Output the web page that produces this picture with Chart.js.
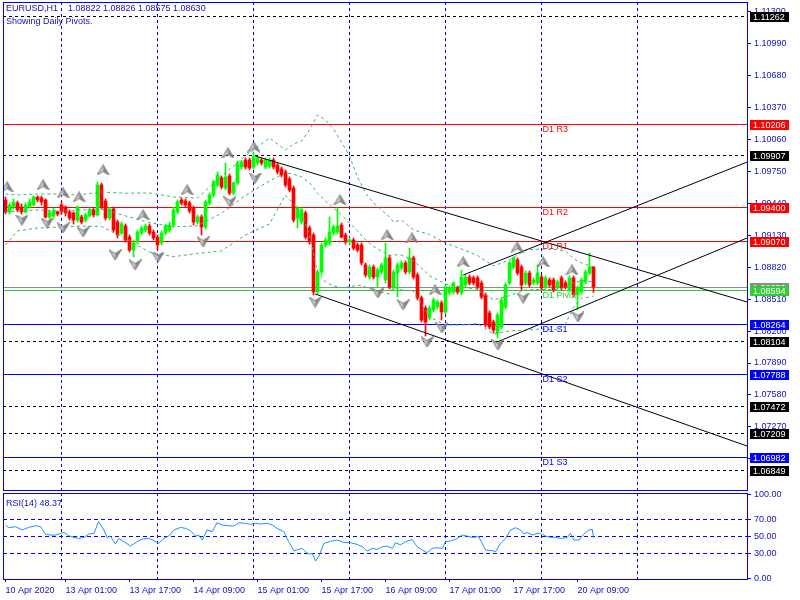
<!DOCTYPE html>
<html lang="en">
<head>
<meta charset="UTF-8">
<title>EURUSD,H1</title>
<script src="https://cdn.jsdelivr.net/npm/chart.js"></script>
<style>
  body { margin: 0; background: #fff; }
  #wrap { position: relative; width: 800px; height: 600px; overflow: hidden; }
  #main { position: absolute; left: 0; top: 0; }
  #rsi { position: absolute; left: 0; top: 480px; }
</style>
</head>
<body>
<div id="wrap">
  <canvas id="main" width="800" height="491"></canvas>
  <canvas id="rsi" width="800" height="120"></canvas>
</div>
<script>
// hourly bars, 10 Apr 10:00 .. 20 Apr 13:00 (bar index = position on the x axis)
const opens = [1.09473,1.09357,1.09405,1.09444,1.09405,1.09357,1.09405,1.09424,1.09502,1.09492,
  1.09473,1.09308,1.09318,1.09357,1.09424,1.09405,1.09357,1.09347,1.09278,1.09308,
  1.09278,1.09318,1.09376,1.09327,1.09619,1.09463,1.09298,1.09386,1.09259,1.09152,
  1.09220,1.09113,1.08987,1.09065,1.09152,1.09181,1.09220,1.09162,1.09113,1.09055,
  1.09152,1.09181,1.09230,1.09357,1.09473,1.09463,1.09444,1.09395,1.09259,1.09308,
  1.09211,1.09444,1.09522,1.09619,1.09686,1.09589,1.09706,1.09541,1.09638,1.09793,
  1.09861,1.09861,1.09793,1.09832,1.09861,1.09793,1.09803,1.09861,1.09812,1.09774,
  1.09745,1.09677,1.09589,1.09298,1.09259,1.09347,1.09201,1.09133,1.08580,1.08774,
  1.09036,1.09055,1.09152,1.09162,1.09230,1.09133,1.09065,1.09084,1.09036,1.09036,
  1.08842,1.08725,1.08822,1.08725,1.08774,1.08696,1.08910,1.08628,1.08764,1.08813,
  1.08861,1.08774,1.08910,1.08745,1.08522,1.08424,1.08327,1.08405,1.08434,1.08473,
  1.08386,1.08570,1.08580,1.08619,1.08570,1.08648,1.08725,1.08716,1.08716,1.08667,
  1.08551,1.08376,1.08288,1.08181,1.08240,1.08434,1.08667,1.08822,1.08890,1.08822,
  1.08667,1.08764,1.08667,1.08667,1.08725,1.08628,1.08696,1.08696,1.08628,1.08716,
  1.08667,1.08599,1.08716,1.08551,1.08580,1.08677,1.08764,1.08822];
const highs = [1.09502,1.09444,1.09483,1.09463,1.09434,1.09444,1.09483,1.09512,1.09512,1.09512,
  1.09483,1.09376,1.09395,1.09366,1.09454,1.09415,1.09376,1.09357,1.09415,1.09327,
  1.09347,1.09395,1.09395,1.09648,1.09638,1.09483,1.09405,1.09405,1.09278,1.09259,
  1.09240,1.09133,1.09084,1.09181,1.09220,1.09240,1.09240,1.09181,1.09133,1.09172,
  1.09240,1.09259,1.09405,1.09473,1.09492,1.09483,1.09463,1.09415,1.09327,1.09327,
  1.09473,1.09541,1.09667,1.09745,1.09706,1.09832,1.09725,1.09648,1.09851,1.09861,
  1.09880,1.09880,1.09939,1.09890,1.09880,1.09880,1.09880,1.09880,1.09832,1.09793,
  1.09764,1.09696,1.09609,1.09415,1.09395,1.09366,1.09220,1.09152,1.08793,1.09055,
  1.09104,1.09308,1.09230,1.09395,1.09250,1.09152,1.09104,1.09104,1.09055,1.09055,
  1.08861,1.08842,1.08842,1.08813,1.08861,1.09055,1.08939,1.08793,1.08861,1.08880,
  1.08880,1.09006,1.08929,1.08764,1.08541,1.08444,1.08444,1.08522,1.08502,1.08493,
  1.08648,1.08638,1.08677,1.08638,1.08793,1.08745,1.08745,1.08735,1.08735,1.08687,
  1.08570,1.08395,1.08307,1.08376,1.08522,1.08667,1.08880,1.08919,1.08910,1.08842,
  1.08784,1.08784,1.08716,1.08842,1.08745,1.08735,1.08716,1.08716,1.08696,1.08735,
  1.08687,1.08735,1.08735,1.08638,1.08716,1.08793,1.08958,1.08826];
const lows = [1.09337,1.09337,1.09386,1.09357,1.09337,1.09347,1.09395,1.09415,1.09454,1.09424,
  1.09298,1.09289,1.09298,1.09318,1.09337,1.09318,1.09278,1.09240,1.09259,1.09240,
  1.09259,1.09308,1.09308,1.09318,1.09386,1.09278,1.09278,1.09162,1.09104,1.09133,
  1.09065,1.08968,1.08919,1.09045,1.09133,1.09162,1.09133,1.09084,1.08987,1.09036,
  1.09133,1.09162,1.09211,1.09337,1.09424,1.09405,1.09347,1.09230,1.09240,1.09133,
  1.09191,1.09424,1.09502,1.09599,1.09580,1.09570,1.09522,1.09522,1.09619,1.09774,
  1.09774,1.09764,1.09774,1.09812,1.09812,1.09774,1.09783,1.09774,1.09725,1.09696,
  1.09599,1.09551,1.09259,1.09201,1.09240,1.09094,1.09045,1.08551,1.08560,1.08745,
  1.09016,1.09036,1.09133,1.09142,1.09104,1.09045,1.09045,1.08987,1.08968,1.08842,
  1.08725,1.08706,1.08706,1.08628,1.08755,1.08667,1.08609,1.08599,1.08531,1.08793,
  1.08755,1.08755,1.08706,1.08502,1.08288,1.08152,1.08307,1.08386,1.08415,1.08307,
  1.08366,1.08551,1.08560,1.08560,1.08551,1.08628,1.08648,1.08648,1.08609,1.08512,
  1.08240,1.08220,1.08181,1.08132,1.08220,1.08415,1.08648,1.08803,1.08745,1.08599,
  1.08648,1.08628,1.08648,1.08648,1.08599,1.08609,1.08628,1.08580,1.08609,1.08599,
  1.08609,1.08580,1.08531,1.08405,1.08560,1.08658,1.08745,1.08575];
const closes = [1.09357,1.09424,1.09454,1.09376,1.09357,1.09424,1.09454,1.09502,1.09473,1.09454,
  1.09308,1.09357,1.09366,1.09337,1.09357,1.09347,1.09298,1.09278,1.09405,1.09259,
  1.09327,1.09376,1.09327,1.09619,1.09405,1.09298,1.09386,1.09181,1.09133,1.09240,
  1.09084,1.08987,1.09055,1.09162,1.09201,1.09220,1.09152,1.09104,1.09036,1.09152,
  1.09220,1.09230,1.09376,1.09454,1.09444,1.09424,1.09366,1.09259,1.09308,1.09211,
  1.09454,1.09522,1.09648,1.09715,1.09599,1.09696,1.09541,1.09638,1.09832,1.09842,
  1.09793,1.09783,1.09890,1.09880,1.09832,1.09861,1.09861,1.09793,1.09745,1.09715,
  1.09619,1.09570,1.09278,1.09395,1.09376,1.09113,1.09065,1.08580,1.08774,1.09036,
  1.09084,1.09162,1.09211,1.09220,1.09113,1.09065,1.09084,1.09006,1.08987,1.08861,
  1.08745,1.08822,1.08725,1.08793,1.08842,1.08910,1.08628,1.08774,1.08842,1.08861,
  1.08774,1.08910,1.08725,1.08522,1.08307,1.08288,1.08424,1.08502,1.08483,1.08386,
  1.08628,1.08619,1.08667,1.08580,1.08725,1.08725,1.08667,1.08667,1.08628,1.08531,
  1.08259,1.08240,1.08210,1.08356,1.08502,1.08648,1.08861,1.08910,1.08764,1.08648,
  1.08764,1.08648,1.08696,1.08764,1.08619,1.08716,1.08648,1.08599,1.08677,1.08619,
  1.08628,1.08716,1.08551,1.08619,1.08696,1.08774,1.08822,1.08630];

// Bollinger band readings (bar, upper, middle, lower)
const bandBars = [0,3,8,14,18,24,30,36,42,48,54,60,66,70,72,74,76,78,80,82,84,86,88,90,92,96,97,99,102,106,110,114,118,122,126,130,134,138,140,142,144,147];
const bandUpper = [1.09531,1.09521,1.09531,1.09531,1.09521,1.09550,1.09538,1.09541,1.09502,1.09492,1.09706,1.09900,1.10075,1.09958,1.10016,1.10045,1.10152,1.10298,1.10249,1.10162,1.10036,1.09900,1.09696,1.09541,1.09443,1.09307,1.09259,1.09278,1.09181,1.09138,1.09055,1.08997,1.08934,1.08832,1.08890,1.08987,1.08997,1.08991,1.08977,1.08904,1.08861,1.08822];
const bandMiddle = [1.09356,1.09366,1.09375,1.09366,1.09375,1.09383,1.09318,1.09254,1.09211,1.09223,1.09344,1.09517,1.09657,1.09738,1.09723,1.09696,1.09643,1.09538,1.09462,1.09397,1.09328,1.09249,1.09173,1.09086,1.09021,1.08932,1.08941,1.08937,1.08884,1.08737,1.08657,1.08628,1.08604,1.08503,1.08543,1.08599,1.08605,1.08603,1.08625,1.08667,1.08689,1.08679];
const bandLower = [1.09036,1.09172,1.09201,1.09210,1.09220,1.09215,1.09099,1.08968,1.08922,1.08954,1.08979,1.09133,1.09240,1.09521,1.09434,1.09346,1.09133,1.08774,1.08676,1.08638,1.08623,1.08628,1.08647,1.08628,1.08599,1.08560,1.08628,1.08599,1.08589,1.08337,1.08259,1.08259,1.08273,1.08172,1.08201,1.08210,1.08220,1.08214,1.08273,1.08430,1.08516,1.08540];

// fractal marks
const fracUpBars = [0.4,9.4,14.4,18.4,24.4,34.4,45.4,55.6,62.1,83.6,95.4,101.6,107.4,114.4,127.9,134.4,141.6];
const fracUpPrices = [1.09599,1.09619,1.09541,1.09502,1.09764,1.09327,1.09570,1.09929,1.09987,1.09473,1.09133,1.09104,1.08599,1.08871,1.09016,1.08871,1.08793];
const fracDownBars = [4.1,10.4,14.4,19.4,27.4,32.4,38.1,49.4,56.1,62.4,77.4,93.1,99.4,105.4,109.1,123.1,129.4,143.1];
const fracDownPrices = [1.09278,1.09249,1.09201,1.09162,1.08939,1.08842,1.08919,1.09065,1.09454,1.09686,1.08482,1.08570,1.08454,1.08094,1.08230,1.08065,1.08521,1.08337];

// channel trend lines
const trendFromBar = [62.4, 77.4, 114.4, 122.9];
const trendFromPrice = [1.09900, 1.08560, 1.08744, 1.08094];
const trendToBar = [185.4, 185.4, 185.4, 185.4];
const trendToPrice = [1.08482, 1.07084, 1.09841, 1.09104];

// levels
const pivotNames = ['D1 R3', 'D1 R2', 'D1 R1', 'D1 Pivot', 'D1 S1', 'D1 S2', 'D1 S3'];
const pivotValues = [1.10206, 1.09400, 1.09070, 1.08594, 1.08264, 1.07788, 1.06982];
const pivotLabelBar = 134;
const markLevels = [1.11262, 1.09907, 1.08104, 1.07472, 1.07209, 1.06849];
const bidPrice = 1.08630;

// RSI(14) readings
const rsiBars = [0,0.8,2.5,4.2,5.8,7.5,8.75,10,11.25,12.5,13.75,14.6,15.8,17.1,18.3,19.6,20.8,22.1,23.3,24.6,
  25.4,26.25,27.5,28.3,29.6,31.25,32.9,34.2,35.8,37.1,38.3,39.6,40.8,42.1,43.75,45,46.25,47.5,48.3,49.2,
  50.4,51.7,52.9,54.2,55.4,57.1,58.3,60,61.25,62.5,63.75,65.4,66.7,67.9,69.6,70.8,72.1,73.3,74.2,75,
  75.8,76.7,77.5,78.3,79.6,81.25,82.9,84.6,86.25,87.9,89.2,90.4,91.7,92.9,94.2,95.4,96.7,97.5,98.75,100,
  101.7,102.9,104.2,105.4,106.7,107.9,109.2,110,111.25,112.5,114.2,115.4,116.7,118.3,120,121.7,122.5,123.75,125,126.25,
  127.5,128.75,129.6,130.4,131.7,132.9,133.75,135,136.25,137.5,138.75,140.4,141.25,142.1,143.4,144.6,145.8,146.7,147];
const rsiValues = [63.4,60.2,61.4,57.5,60.6,62.6,61.4,52.7,51.5,51.5,53.5,54.7,50.7,48.8,47.6,48.8,52.7,53.5,67.3,57.5,
  48.8,50.3,40.9,47.6,43.7,38.6,43.7,46.8,47.6,44.9,41.7,47.6,50.3,57.5,60.6,59.4,56.7,50.3,51.5,45.7,
  57.5,55.5,66.1,63.4,62.6,62.2,66.1,65.4,64.2,65.4,64.6,65.4,63.4,59.4,55.5,43.7,33.1,34.6,35.8,31.9,
  29.1,29.9,20.9,26.0,41.7,44.1,45.7,42.9,42.5,40.5,37.8,32.7,35.8,34.6,37.8,38.6,35.8,42.5,40.0,43.7,
  46.4,37.8,33.9,30.7,35.8,36.6,35.8,43.7,44.5,46.4,51.5,50.3,48.8,49.6,33.9,33.1,31.9,41.7,47.6,57.5,
  60.2,57.5,52.7,54.7,51.5,53.5,53.5,50.3,48.8,48.8,47.6,48.4,53.5,45.7,45.7,52.7,57.5,58.2,48.37];
const rsiTicks = [0, 30, 50, 70, 100];
const rsiLevels = [30, 50, 70];

// axes
const priceTicks = [1.0696,1.0727,1.0758,1.0789,1.0820,1.0851,1.0882,1.0913,1.0944,1.0975,1.1006,1.1037,1.1068,1.1099,1.1130];
const dayStartBars = [14, 38, 62, 86, 110, 134, 158];
const xTickBars = [0, 15, 31, 47, 63, 79, 95, 111, 127, 143];
const xTickLabels = ['10 Apr 2020','13 Apr 01:00','13 Apr 17:00','14 Apr 09:00','15 Apr 01:00','15 Apr 17:00','16 Apr 09:00','17 Apr 01:00','17 Apr 17:00','20 Apr 09:00'];

const X_MIN = -0.625, X_MAX = 185.375;
const Y_MIN = 1.06657, Y_MAX = 1.11395;

const FONT = { family: '"Liberation Sans", Arial, sans-serif', size: 9 };
const FONT_CSS = '9px "Liberation Sans", Arial, sans-serif';
const TEXT = '#1010c0', FRAME = '#0000ff';
const BULL = '#00ff00', BEAR = '#ff0000';
const BAND = '#3cb371', PIVOT_GREEN = '#32cd32';

const bars = opens.map((_, i) => i);
const candleColors = bars.map(i => closes[i] >= opens[i] ? BULL : BEAR);
const pivotColor = name => name.includes('R') ? '#ff0000' : (name.includes('S') ? '#0000ff' : PIVOT_GREEN);

function arrowImage(up) {
  const c = document.createElement('canvas');
  c.width = 13; c.height = 11;
  const g = c.getContext('2d');
  if (!up) { g.translate(0, 11); g.scale(1, -1); }
  const outline = () => {
    g.beginPath(); g.moveTo(6.5, 0.5); g.lineTo(12.5, 10.5); g.lineTo(6.5, 7); g.lineTo(0.5, 10.5); g.closePath();
  };
  outline(); g.fillStyle = '#d0d0d0'; g.fill();
  g.beginPath(); g.moveTo(6.5, 0.5); g.lineTo(12.5, 10.5); g.lineTo(6.5, 7); g.closePath();
  g.fillStyle = '#8c8c8c'; g.fill();
  outline(); g.strokeStyle = '#707070'; g.lineWidth = 1; g.stroke();
  return c;
}

function frame(ctx, a) {
  ctx.save();
  ctx.strokeStyle = FRAME; ctx.lineWidth = 1; ctx.setLineDash([]);
  ctx.strokeRect(a.left + 0.5, a.top + 0.5, a.right - a.left, a.bottom - a.top);
  ctx.restore();
}

// keep the plot area exactly where the panes are: no extra room for half labels
const noPad = s => { s.paddingTop = 0; s.paddingBottom = 0; s.paddingLeft = 0; s.paddingRight = 0; };

const mainPlugin = {
  id: 'mainOverlay',
  beforeDatasetsDraw(chart) {
    const { ctx, chartArea: a, scales: { y } } = chart;
    ctx.save();
    ctx.lineWidth = 1;
    const hline = (price, color, dash) => {
      const py = Math.round(y.getPixelForValue(price)) + 0.5;
      ctx.strokeStyle = color; ctx.setLineDash(dash);
      ctx.beginPath(); ctx.moveTo(a.left, py); ctx.lineTo(a.right, py); ctx.stroke();
    };
    markLevels.forEach(p => hline(p, '#000000', [3, 3]));
    pivotValues.forEach((p, i) => hline(p, pivotColor(pivotNames[i]), []));
    hline(bidPrice, '#8c8c8c', []);
    ctx.restore();
  },
  afterDatasetsDraw(chart) {
    const { ctx, scales: { x, y } } = chart;
    ctx.save();
    ctx.font = FONT_CSS; ctx.textAlign = 'left'; ctx.textBaseline = 'alphabetic';
    const lx = x.getPixelForValue(pivotLabelBar) + 1;
    pivotValues.forEach((p, i) => {
      ctx.fillStyle = pivotColor(pivotNames[i]);
      ctx.fillText(pivotNames[i], lx, Math.round(y.getPixelForValue(p)) + 8);
    });
    ctx.restore();
  },
  afterDraw(chart) {
    const { ctx, chartArea: a, scales: { y } } = chart;
    frame(ctx, a);
    ctx.save();
    ctx.font = FONT_CSS; ctx.textAlign = 'left';
    // header
    ctx.fillStyle = TEXT; ctx.textBaseline = 'alphabetic';
    const last = opens.length - 1;
    ctx.fillText('EURUSD,H1', 6, 11);
    ctx.fillText([opens[last], highs[last], lows[last], closes[last]].map(v => v.toFixed(5)).join(' '), 68, 11);
    ctx.fillText('Showing Daily Pivots.', 6, 24);
    // price boxes on the axis
    const boxes = [];
    markLevels.forEach(p => boxes.push([p, '#000000']));
    pivotValues.forEach((p, i) => { if (!pivotNames[i].includes('Pivot')) boxes.push([p, pivotColor(pivotNames[i])]); });
    boxes.push([bidPrice, '#8c8c8c']);
    pivotValues.forEach((p, i) => { if (pivotNames[i].includes('Pivot')) boxes.push([p, PIVOT_GREEN]); });
    ctx.textBaseline = 'middle';
    boxes.forEach(([p, col]) => {
      const py = Math.round(y.getPixelForValue(p));
      ctx.fillStyle = col;
      ctx.fillRect(a.right + 3, py - 4, 39, 10);
      ctx.fillStyle = '#ffffff';
      ctx.fillText(p.toFixed(5), a.right + 6, py + 1.5);
    });
    ctx.restore();
  }
};

const lineSet = (xs, ys, color, dash, order) => ({
  type: 'line', data: xs.map((b, i) => ({ x: b, y: ys[i] })),
  borderColor: color, borderWidth: 1, borderDash: dash, pointRadius: 0, tension: 0, order
});

new Chart(document.getElementById('main'), {
  type: 'bar',
  data: {
    datasets: [
      { type: 'line', data: fracUpBars.map((b, i) => ({ x: b, y: fracUpPrices[i] })),
        pointStyle: arrowImage(true), pointRadius: 6, showLine: false, order: 1 },
      { type: 'line', data: fracDownBars.map((b, i) => ({ x: b, y: fracDownPrices[i] })),
        pointStyle: arrowImage(false), pointRadius: 6, showLine: false, order: 1 },
      ...trendFromBar.map((b, i) => lineSet([b, trendToBar[i]], [trendFromPrice[i], trendToPrice[i]], '#000000', [], 2)),
      lineSet(bandBars, bandUpper, BAND, [3, 3], 3),
      lineSet(bandBars, bandMiddle, BAND, [3, 3], 3),
      lineSet(bandBars, bandLower, BAND, [3, 3], 3),
      { data: bars.map(i => ({ x: i, y: [lows[i], highs[i]] })), backgroundColor: candleColors,
        barThickness: 1, grouped: false, borderWidth: 0, order: 4 },
      { data: bars.map(i => ({ x: i, y: [opens[i], closes[i]] })), backgroundColor: candleColors,
        barThickness: 3, grouped: false, borderWidth: 0, minBarLength: 1, order: 4 }
    ]
  },
  options: {
    responsive: false, animation: false, events: [],
    layout: { autoPadding: false, padding: { left: 3, top: 2, right: 0, bottom: 0 } },
    plugins: { legend: { display: false }, tooltip: { enabled: false } },
    scales: {
      x: {
        type: 'linear', min: X_MIN, max: X_MAX, offset: false,
        afterBuildTicks: s => { s.ticks = dayStartBars.map(v => ({ value: v })); },
        afterFit: s => { s.height = 1; noPad(s); },
        ticks: { display: false },
        grid: { color: FRAME, lineWidth: 1, drawTicks: false, offset: false },
        border: { display: false, dash: [3, 3] }
      },
      y: {
        position: 'right', min: Y_MIN, max: Y_MAX,
        afterBuildTicks: s => { s.ticks = priceTicks.map(v => ({ value: v })); },
        afterFit: s => { s.width = 53; noPad(s); },
        ticks: { color: TEXT, font: FONT, padding: 3, callback: v => v.toFixed(5) },
        grid: { drawOnChartArea: false, drawTicks: true, tickLength: 4, tickColor: FRAME },
        border: { display: false }
      }
    }
  },
  plugins: [mainPlugin]
});

const rsiPlugin = {
  id: 'rsiOverlay',
  afterDraw(chart) {
    const { ctx, chartArea: a } = chart;
    frame(ctx, a);
    ctx.save();
    ctx.font = FONT_CSS; ctx.fillStyle = TEXT; ctx.textAlign = 'left'; ctx.textBaseline = 'alphabetic';
    ctx.fillText('RSI(14) ' + rsiValues[rsiValues.length - 1].toFixed(2), 6, a.top + 13);
    ctx.restore();
  }
};

new Chart(document.getElementById('rsi'), {
  type: 'line',
  data: {
    datasets: [{
      data: rsiBars.map((b, i) => ({ x: b, y: rsiValues[i] })),
      borderColor: '#1e90ff', borderWidth: 1, pointRadius: 0, tension: 0
    }]
  },
  options: {
    responsive: false, animation: false, events: [],
    layout: { autoPadding: false, padding: { left: 3, top: 13, right: 0, bottom: 0 } },
    plugins: { legend: { display: false }, tooltip: { enabled: false } },
    scales: {
      x: {
        type: 'linear', position: 'bottom', min: X_MIN, max: X_MAX, offset: false,
        afterBuildTicks: s => { s.ticks = xTickBars.map(v => ({ value: v })); },
        afterFit: s => { s.height = 21; noPad(s); },
        ticks: { color: TEXT, font: FONT, align: 'start', padding: 3, autoSkip: false, maxRotation: 0,
          callback: v => xTickLabels[xTickBars.indexOf(v)] },
        grid: { drawOnChartArea: false, drawTicks: true, tickLength: 3, tickColor: FRAME },
        border: { display: false }
      },
      xg: {
        type: 'linear', axis: 'x', position: 'top', min: X_MIN, max: X_MAX, offset: false,
        afterBuildTicks: s => { s.ticks = dayStartBars.map(v => ({ value: v })); },
        afterFit: s => { s.height = 0; noPad(s); },
        ticks: { display: false },
        grid: { color: FRAME, drawTicks: false },
        border: { display: false, dash: [3, 3] }
      },
      y: {
        position: 'right', min: -0.35, max: 101.2,
        afterBuildTicks: s => { s.ticks = rsiTicks.map(v => ({ value: v })); },
        afterFit: s => { s.width = 53; noPad(s); },
        ticks: { color: TEXT, font: FONT, padding: 3, callback: v => v.toFixed(2) },
        grid: {
          color: c => (c.tick && rsiLevels.includes(c.tick.value)) ? FRAME : 'rgba(0,0,0,0)',
          drawTicks: true, tickLength: 4, tickColor: FRAME, tickBorderDash: []
        },
        border: { display: false, dash: [4, 3] }
      }
    }
  },
  plugins: [rsiPlugin]
});
</script>
</body>
</html>
